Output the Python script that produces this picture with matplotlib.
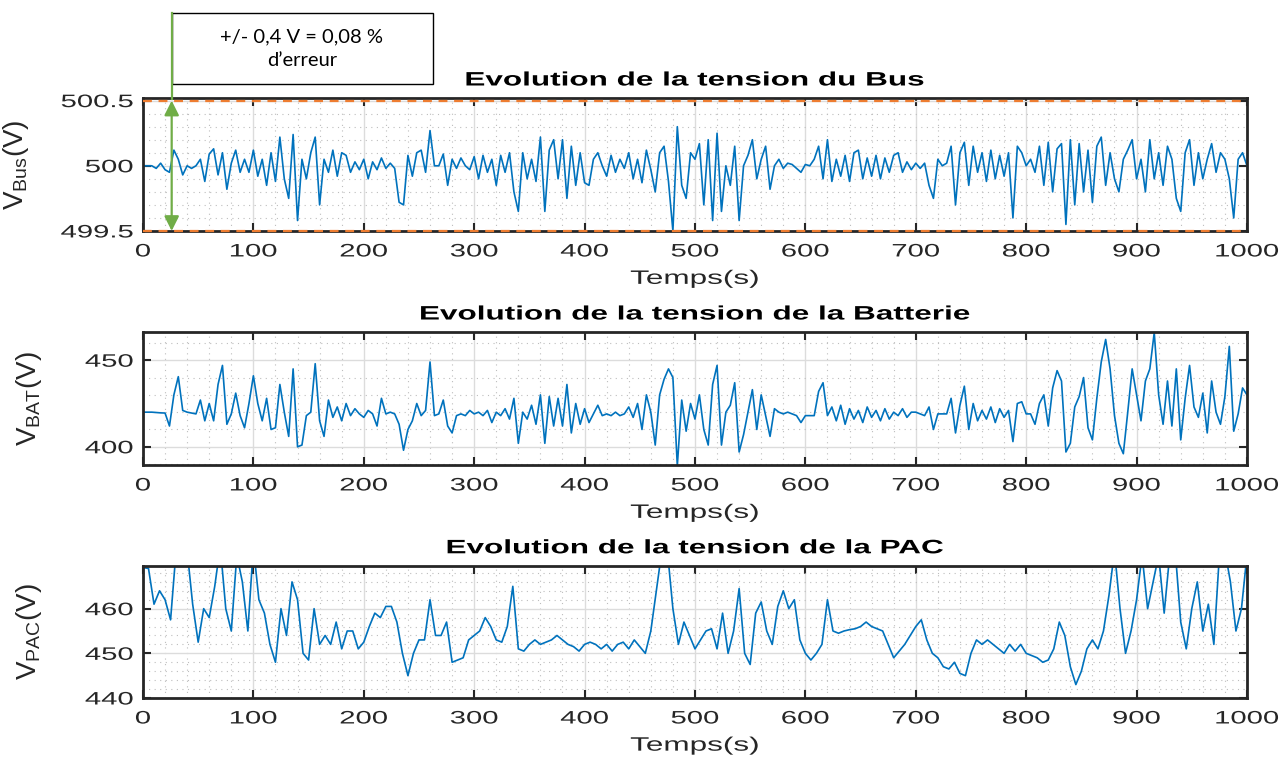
"""
Bus / batterie / PAC voltage evolution, three stacked panels.
"""

import numpy as np
import matplotlib
matplotlib.use("Agg")
import matplotlib.pyplot as plt
from matplotlib.patches import Rectangle
from matplotlib.lines import Line2D
from matplotlib.ticker import MultipleLocator, FuncFormatter
from matplotlib.patheffects import AbstractPathEffect
from matplotlib.transforms import Affine2D

# Bus voltage (V), one value every 4 s
bus_v = [
    500.00, 500.00, 500.00, 499.98, 500.02, 499.97, 499.95, 500.12, 500.05, 499.93,
    500.00, 499.98, 500.00, 500.05, 499.88, 500.09, 500.13, 499.93, 500.10, 499.82,
    500.02, 500.12, 499.95, 500.05, 499.95, 500.12, 499.92, 500.05, 499.85, 500.10,
    499.88, 500.22, 499.90, 499.75, 500.24, 499.58, 500.05, 499.90, 500.10, 500.22,
    499.70, 500.05, 499.95, 500.12, 499.92, 500.10, 500.08, 499.95, 500.03, 499.97,
    500.05, 499.90, 500.03, 499.97, 500.06, 499.98, 500.02, 499.98, 499.72, 499.70,
    500.08, 499.92, 500.10, 500.12, 499.95, 500.27, 500.00, 500.00, 500.09, 499.85,
    500.05, 499.98, 500.06, 500.00, 499.97, 500.07, 499.90, 500.08, 499.95, 500.05,
    499.85, 500.08, 499.95, 500.10, 499.80, 499.65, 500.10, 499.90, 500.05, 499.88,
    500.22, 499.65, 500.12, 500.20, 499.90, 500.20, 499.75, 500.15, 499.85, 500.10,
    499.87, 499.85, 500.05, 500.10, 500.00, 499.92, 500.08, 499.95, 500.05, 499.98,
    500.10, 499.90, 500.05, 499.87, 500.12, 499.97, 499.80, 500.10, 500.15, 499.88,
    499.50, 500.30, 499.85, 499.75, 500.10, 500.05, 500.17, 499.70, 500.20, 499.58,
    500.25, 499.65, 500.00, 499.85, 500.15, 499.58, 500.00, 500.08, 500.20, 499.90,
    500.05, 500.15, 499.82, 500.00, 500.05, 499.98, 500.02, 500.01, 499.98, 499.95,
    500.01, 500.00, 500.05, 500.15, 499.90, 500.20, 499.88, 500.05, 499.92, 500.08,
    499.88, 500.10, 500.12, 499.90, 500.06, 499.92, 500.08, 499.90, 500.06, 499.95,
    500.08, 500.10, 499.95, 500.03, 499.97, 500.02, 499.98, 500.02, 499.85, 499.75,
    500.05, 500.00, 500.02, 500.15, 499.70, 500.10, 500.18, 499.85, 500.15, 499.95,
    500.10, 499.88, 500.12, 499.90, 500.08, 499.92, 500.10, 499.60, 500.15, 500.10,
    500.00, 500.05, 499.95, 500.15, 499.85, 500.18, 499.80, 500.13, 500.17, 499.55,
    500.20, 499.70, 500.17, 499.80, 500.12, 499.72, 500.15, 500.22, 499.85, 500.10,
    499.90, 499.80, 500.05, 500.12, 500.20, 499.90, 500.05, 499.80, 500.20, 499.90,
    500.10, 499.85, 500.15, 500.05, 499.75, 499.65, 500.10, 500.20, 499.85, 500.10,
    499.90, 500.05, 500.17, 499.95, 500.10, 500.05, 499.90, 499.60, 500.05, 500.10,
    500.00,
]

# Battery voltage (V), one value every 4 s
bat_v = [
    420, 420, 420, 419.8, 419.6, 419.5, 412, 430, 440.5, 421,
    420, 419.5, 419, 427, 415, 425, 415, 436, 447, 413,
    419, 431, 418, 411, 425, 441, 425, 415, 428, 410,
    411, 436, 420, 406, 445, 400, 401, 418, 420, 448,
    415, 406, 427, 417, 423, 415, 425, 418, 422, 419,
    417, 421, 419, 412, 428, 419, 420, 419, 413, 398,
    410, 415, 425, 418, 421, 449, 418, 419, 427, 412,
    408, 418, 419, 418, 421, 419, 420, 418, 421, 414,
    420, 418, 422, 416, 428, 402, 420, 416, 424, 413,
    430, 402, 429, 412, 428, 412, 436, 408, 425, 413,
    422, 414, 419, 424, 418, 419, 418, 420, 418, 419,
    423, 417, 425, 410, 430, 420, 401, 430, 439, 445,
    440, 389, 427, 409, 425, 416, 430, 410, 401, 436,
    447, 401, 420, 424, 437, 397, 407, 420, 433, 410,
    430, 418, 406, 422, 420, 419, 420, 419, 418, 414,
    418, 418, 418, 432, 437, 418, 423, 415, 424, 413,
    422, 416, 421, 414, 423, 417, 421, 415, 422, 416,
    420, 418, 422, 417, 420, 420, 419, 418, 423, 410,
    419, 419, 419, 428, 408, 424, 435, 410, 425, 415,
    421, 416, 423, 414, 422, 417, 421, 403, 425, 426,
    419, 419, 413, 425, 430, 412, 434, 444, 438, 397,
    402, 423, 429, 440, 411, 404, 428, 449, 462, 445,
    418, 402, 396, 420, 445, 430, 415, 438, 445, 466,
    430, 413, 438, 412, 445, 404, 428, 447, 423, 417,
    431, 408, 438, 420, 413, 429, 458, 409, 419, 434,
    430,
]

# Fuel cell (PAC) voltage (V), one value every 5 s
pac_v = [
    469.2, 469.0, 461, 464, 462, 457.5, 473, 473, 473, 461,
    452.5, 460, 458, 465, 474, 460, 455, 472, 466, 455,
    474, 462, 459, 452, 448, 460, 454, 466, 462, 450,
    448.5, 460, 452, 454, 452, 457, 451, 455, 455, 451,
    452.5, 456, 459, 458, 460.5, 460.5, 457, 450, 445, 450,
    453, 453, 462, 454, 454, 457, 448, 448.5, 449, 453,
    454, 455, 458, 456, 453, 452.5, 456, 465, 451, 450.5,
    452, 453, 452, 452.5, 453, 454, 453, 452, 451.5, 450.5,
    452, 452.5, 452, 451, 452, 450.5, 452, 452.5, 451, 453,
    451.5, 450, 455, 464, 473, 473, 460, 452, 457, 454,
    451, 453, 455, 455.5, 451, 459, 450, 455, 464.5, 450,
    447.5, 459, 461.5, 455, 452, 460.5, 464, 460, 462, 453,
    450, 448.5, 450, 452, 462, 455, 454.5, 455, 455.3, 455.5,
    456, 457, 456, 455.5, 455, 452, 449, 450.5, 452, 454,
    456, 457.5, 453, 450, 449, 447, 446.5, 448, 445.5, 445,
    450, 453, 452, 453, 452, 451, 450, 452, 450.5, 452,
    450, 449.5, 449, 448, 448.5, 451, 457, 454, 447, 443,
    446, 451, 453, 451, 455, 463, 473, 460, 450, 455,
    462, 472, 460, 466, 472, 459, 472, 473, 457, 451,
    460, 466, 455, 461, 452, 472, 473, 466, 455, 460,
    472,
]

titles = ["Evolution de la tension du Bus",
          "Evolution de la tension de la Batterie",
          "Evolution de la tension de la PAC"]
ylabels = [r"V$_{\mathrm{Bus}}$(V)", r"V$_{\mathrm{BAT}}$(V)", r"V$_{\mathrm{PAC}}$(V)"]


class HStretch(AbstractPathEffect):
    """Stretch text horizontally (the original figure was widened)."""

    def __init__(self, sx, anchor="center"):
        super().__init__()
        self.sx = sx
        self.anchor = anchor

    def draw_path(self, renderer, gc, tpath, affine, rgbFace=None):
        ext = tpath.get_extents(affine)
        if self.anchor == "right":
            x0 = ext.x1
        elif self.anchor == "left":
            x0 = ext.x0
        else:
            x0 = 0.5 * (ext.x0 + ext.x1)
        aff = affine + Affine2D().translate(-x0, 0).scale(self.sx, 1).translate(x0, 0)
        renderer.draw_path(gc, tpath, aff, rgbFace)


plt.rcParams["font.family"] = ["Liberation Sans", "DejaVu Sans"]
plt.rcParams["mathtext.fontset"] = "custom"
plt.rcParams["mathtext.rm"] = "Liberation Sans"

blue = "#0072BD"
dark = "#262626"
SX = 1.62

fig = plt.figure(figsize=(12.8, 7.62), dpi=100)
ax1 = fig.add_axes([0.1117, 0.6969, 0.8625, 0.1745])
ax2 = fig.add_axes([0.1117, 0.3898, 0.8625, 0.1745])
ax3 = fig.add_axes([0.1117, 0.0840, 0.8625, 0.1735])
axes = [ax1, ax2, ax3]

series = [bus_v, bat_v, pac_v]
ylims = [(499.5, 500.52), (389.5, 466.3), (440, 469.6)]
ymaj = [0.5, 50, 10]
ymin = [0.1, 10, 2]

for ax, vals, ttl, yl, lim, mj, mn in zip(axes, series, titles, ylabels, ylims, ymaj, ymin):
    t = np.linspace(0, 1000, len(vals))
    ax.plot(t, vals, color=blue, linewidth=1.2)
    ax.set_xlim(0, 1000)
    ax.set_ylim(*lim)
    ax.xaxis.set_major_locator(MultipleLocator(100))
    ax.xaxis.set_minor_locator(MultipleLocator(20))
    ax.yaxis.set_major_locator(MultipleLocator(mj))
    ax.yaxis.set_minor_locator(MultipleLocator(mn))
    ax.grid(True, which="major", color="#DCDCDC", linewidth=1.0)
    ax.grid(True, which="minor", color="#BDBDBD", linewidth=0.8, linestyle=(0, (1, 4)))
    ax.set_axisbelow(True)
    ax.tick_params(which="major", direction="in", length=6, width=1.5, top=True, right=True,
                   labelsize=13, colors=dark, labelcolor=dark)
    ax.tick_params(axis="x", which="major", pad=9)
    ax.tick_params(axis="y", which="major", pad=7)
    ax.tick_params(which="minor", length=0)
    for s in ax.spines.values():
        s.set_linewidth(2.0)
        s.set_color(dark)
    ax.set_title(ttl, fontsize=14, fontweight="bold", pad=9,
                 path_effects=[HStretch(SX)])
    ax.set_xlabel("Temps(s)", fontsize=14, color=dark, path_effects=[HStretch(SX)])
    ax.xaxis.set_label_coords(0.5, -0.30)
    ax.set_ylabel(yl, fontsize=20, color=dark)

ax1.yaxis.set_major_formatter(FuncFormatter(lambda v, p: f"{v:g}"))
ax1.yaxis.set_label_coords(-0.101, 0.5)
ax2.yaxis.set_label_coords(-0.090, 0.5)
ax3.yaxis.set_label_coords(-0.090, 0.5)

# +/- limits on the bus voltage
orange = "#EE7D31"
for lvl in [500.5, 499.5]:
    ax1.axhline(lvl, color=orange, linestyle=(0, (4, 3)), linewidth=1.6, zorder=5, clip_on=False)

# green arrow with annotation box
green = "#70AD47"
x_arrow = 26
ax1.annotate("", xy=(x_arrow, 500.5), xytext=(x_arrow, 499.5),
             arrowprops=dict(arrowstyle="<|-|>", color=green, lw=1.6,
                             mutation_scale=22, shrinkA=0, shrinkB=0), zorder=6)
fig.add_artist(Line2D([172 / 1280, 172 / 1280], [1 - 13 / 762, 1 - 99 / 762],
                      color=green, linewidth=1.6))
fig.add_artist(Rectangle((172 / 1280, 1 - 84 / 762), 261 / 1280, 71 / 762,
                         fill=False, edgecolor="black", linewidth=1.0))
fig.text(302 / 1280, 1 - 37 / 762, "+/- 0,4 V = 0,08 %", ha="center", va="center",
         fontsize=14.5, family=["Lato", "DejaVu Sans"])
fig.text(302 / 1280, 1 - 61 / 762, "d\u2019erreur", ha="center", va="center",
         fontsize=14.5, family=["Lato", "DejaVu Sans"])

# tick labels exist after a first draw; widen them like the rest of the text
fig.canvas.draw()
for ax in axes:
    for lbl in ax.get_xticklabels():
        lbl.set_path_effects([HStretch(SX)])
    for lbl in ax.get_yticklabels():
        lbl.set_path_effects([HStretch(SX, anchor="right")])

fig.savefig("out.png", dpi=100)
print("Saved out.png")
